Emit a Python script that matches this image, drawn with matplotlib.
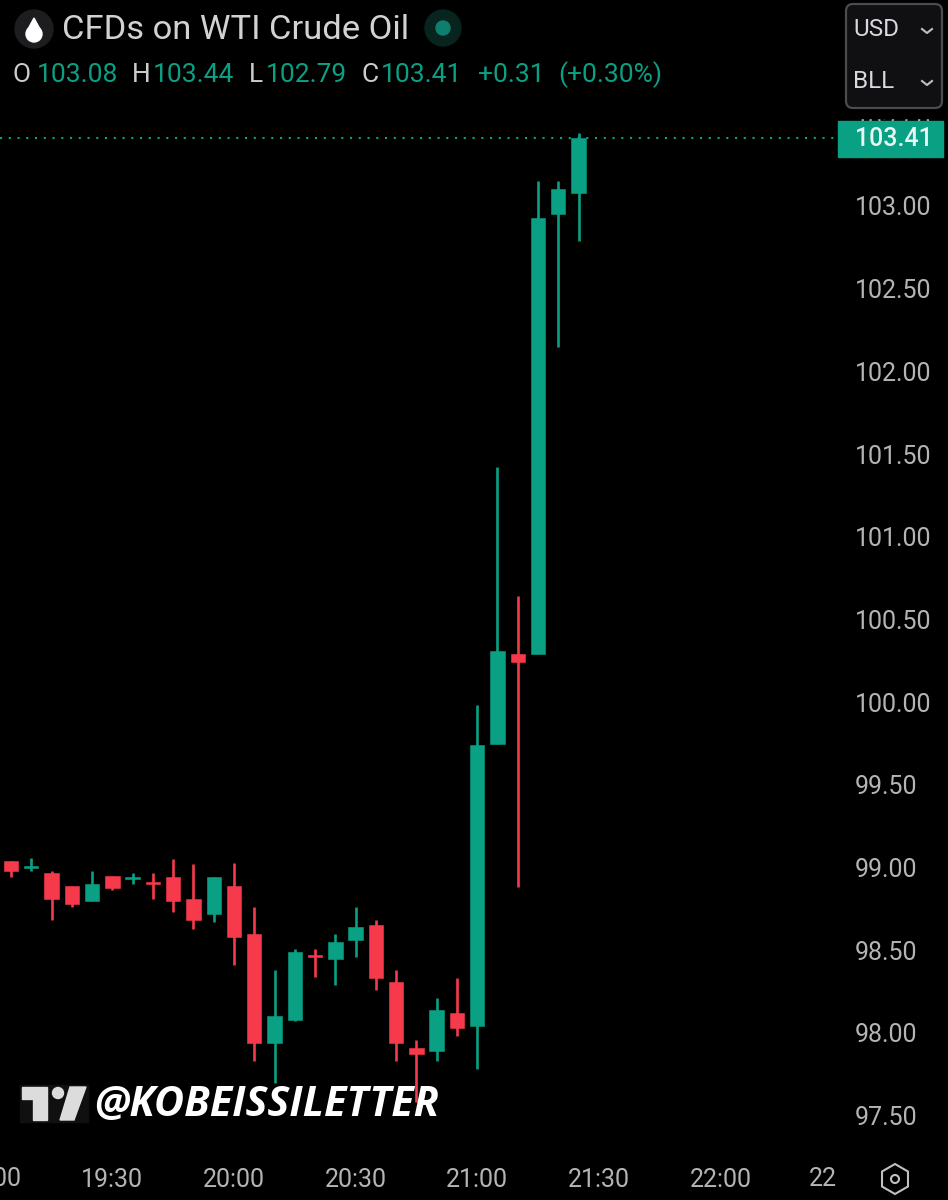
import matplotlib
matplotlib.use("Agg")
import matplotlib.pyplot as plt
from matplotlib.patches import Circle, FancyBboxPatch, Polygon, Rectangle, RegularPolygon

# 5 min bars, first one is 19:05
opens = [99.04, 99.00, 98.97, 98.89, 98.80, 98.95, 98.93, 98.91, 98.94, 98.81,
         98.72, 98.89, 98.60, 97.94, 98.08, 98.47, 98.45, 98.56, 98.65, 98.31,
         97.91, 97.89, 98.12, 98.04, 99.75, 100.29, 100.29, 102.95, 103.08]
highs = [99.04, 99.06, 98.98, 98.89, 98.98, 98.95, 98.97, 98.97, 99.05, 99.02,
         98.94, 99.03, 98.76, 98.38, 98.51, 98.51, 98.60, 98.76, 98.68, 98.38,
         97.96, 98.21, 98.33, 99.98, 101.42, 100.64, 103.15, 103.15, 103.44]
lows = [98.94, 98.98, 98.68, 98.76, 98.80, 98.865, 98.90, 98.81, 98.73, 98.63,
        98.67, 98.41, 97.83, 97.70, 98.07, 98.34, 98.29, 98.46, 98.26, 97.83,
        97.58, 97.83, 97.98, 97.78, 99.75, 98.88, 100.29, 102.15, 102.79]
closes = [98.98, 99.01, 98.81, 98.78, 98.90, 98.875, 98.94, 98.90, 98.80, 98.68,
          98.94, 98.58, 97.94, 98.10, 98.49, 98.46, 98.55, 98.64, 98.33, 97.94,
          97.87, 98.14, 98.03, 99.74, 100.31, 100.24, 102.93, 103.10, 103.41]

price_ticks = [97.5, 98, 98.5, 99, 99.5, 100, 100.5, 101, 101.5, 102, 102.5, 103, 103.5]
time_pos = [5, 11, 17, 23, 29, 35]
time_labels = ["19:30", "20:00", "20:30", "21:00", "21:30", "22:00"]
last_price = 103.41

GREEN = "#0aa084"
RED = "#f63a4b"
GREY = "#b4b4b4"
FONT = "Roboto"

plt.rcParams["font.family"] = FONT

fig = plt.figure(figsize=(9.48, 12), dpi=100, facecolor="black")
ax = fig.add_axes([0, 40 / 1200, 838 / 948, 1050 / 1200], facecolor="black")

xs = list(range(len(opens)))
colors = [GREEN if c >= o else RED for o, c in zip(opens, closes)]
bottoms = [min(o, c) for o, c in zip(opens, closes)]
heights = [abs(c - o) for o, c in zip(opens, closes)]

ax.vlines(xs, lows, highs, colors=colors, linewidth=1.9, zorder=2)
ax.bar(xs, heights, bottom=bottoms, width=0.71, color=colors, edgecolor=colors,
       linewidth=0.4, zorder=3)
ax.axhline(last_price, color=GREEN, linewidth=1.5, linestyle=(0, (1, 3.2)), zorder=1)

ax.set_xlim(-0.543, 40.8)
ax.set_ylim(97.232, 103.58)
ax.set_yticks(price_ticks)
ax.set_yticklabels([f"{p:.2f}" for p in price_ticks])
ax.set_xticks(time_pos)
ax.set_xticklabels(time_labels)
ax.yaxis.tick_right()
ax.tick_params(axis="y", length=0, pad=12, labelsize=18, labelcolor=GREY)
ax.tick_params(axis="x", length=0, pad=6, labelsize=18, labelcolor=GREY)
for s in ax.spines.values():
    s.set_visible(False)

# overlay in pixel coords for the TradingView furniture
ov = fig.add_axes([0, 0, 1, 1])
ov.set_xlim(0, 948)
ov.set_ylim(1200, 0)
ov.axis("off")
ov.patch.set_alpha(0)

# header
ov.add_patch(Circle((34, 29), 19, color="#1d1d1f"))
ov.add_patch(Circle((34, 34), 8, color="white"))
ov.add_patch(Polygon([(27, 31), (34, 18), (41, 31)], color="white"))
ov.text(62, 30, "CFDs on WTI Crude Oil", color="#d2d2d2", fontsize=24.8, va="center")
ov.add_patch(Circle((443, 28), 18, color="#08241f"))
ov.add_patch(Circle((443, 28), 7, color="#0d7f6c"))

for x, s, c in [(13, "O", "#cccccc"), (37, "103.08", GREEN), (132, "H", "#cccccc"),
                (153, "103.44", GREEN), (249, "L", "#cccccc"), (266, "102.79", GREEN),
                (362, "C", "#cccccc"), (381, "103.41", GREEN),
                (478, "+0.31", GREEN), (558, "(+0.30%)", GREEN)]:
    ov.text(x, 75, s, color=c, fontsize=19, va="center")

# unit box top right
ov.add_patch(FancyBboxPatch((849, 7), 90, 98, boxstyle="round,pad=3,rounding_size=7",
                            facecolor="#101012", edgecolor="#4c4c4e", linewidth=1.6))
ov.text(853, 30, "USD", color="#d8d8e0", fontsize=17.5, va="center")
ov.text(853, 82, "BLL", color="#d8d8e0", fontsize=17.5, va="center")
for y in (30, 82):
    ov.plot([922, 927, 932], [y - 1, y + 3, y - 1], color="#c0c0c0", linewidth=1.5)

# 103.50 label sits almost fully behind the tag
ov.add_patch(Rectangle((838, 110), 110, 8, color="black"))

# last price tag
ov.add_patch(Rectangle((838, 121), 105, 36, color=GREEN))
ov.text(894, 139.5, f"{last_price:.2f}", color="#e8f5f2", fontsize=18, ha="center",
        va="center", fontweight="medium")

# time labels cut off at the edges
ov.text(-9, 1179, "19:00", color=GREY, fontsize=18, ha="center", va="center")
ov.text(823, 1179, "22", color=GREY, fontsize=18, ha="center", va="center")

# settings icon
ov.add_patch(RegularPolygon((895, 1179), 6, radius=15, fill=False, edgecolor="#c0c0c0", linewidth=1.5))
ov.add_patch(Circle((895, 1179), 4, fill=False, edgecolor="#c0c0c0", linewidth=1.5))

# watermark
ov.add_patch(Rectangle((20, 1085), 68, 37, color="#101010"))
ov.add_patch(Polygon([(22, 1087), (47, 1087), (47, 1120), (33, 1120), (33, 1099), (22, 1099)], color="#dcdcdc"))
ov.add_patch(Circle((58, 1093), 5.5, color="#dcdcdc"))
ov.add_patch(Polygon([(70, 1087), (86, 1087), (74, 1120), (60, 1120)], color="#dcdcdc"))
ov.text(94, 1105, "@KOBEISSILETTER", color="white", fontsize=29.8, fontweight="bold",
        fontstyle="italic", family="Open Sans", va="center")

fig.savefig("out.png", dpi=100, facecolor="black")
